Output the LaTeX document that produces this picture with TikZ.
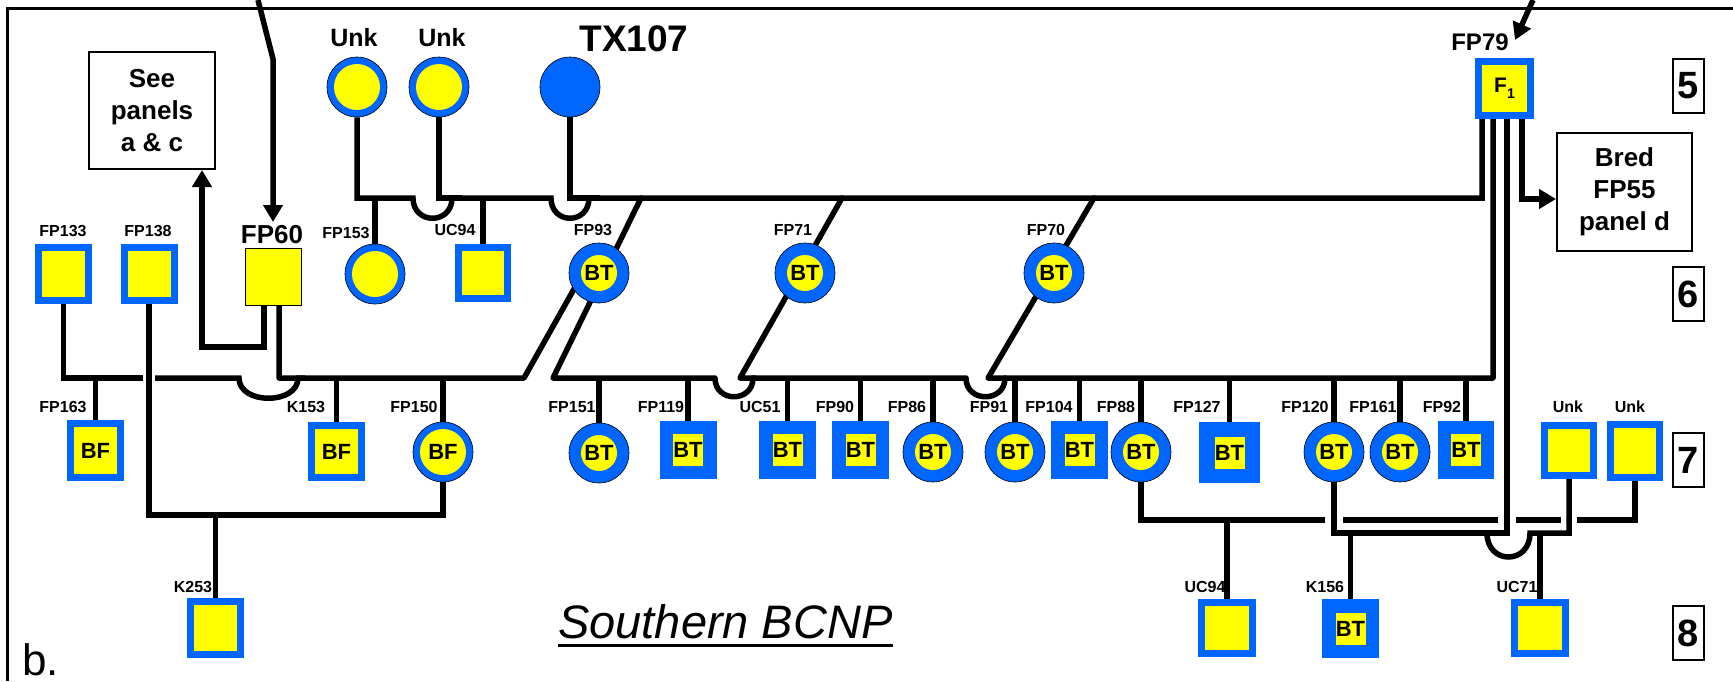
\documentclass[tikz,border=0pt]{standalone}
\usepackage{fontspec}
\setmainfont{Liberation Sans}
\usetikzlibrary{arrows.meta,calc}
\definecolor{pblue}{RGB}{0,102,255}
\definecolor{pyellow}{RGB}{255,255,0}
\newcommand{\myfs}[2]{\fontsize{#1}{#2}\selectfont}
\pgfdeclarelayer{bg}
\pgfsetlayers{bg,main}
\begin{document}
\begin{tikzpicture}[x=1pt,y=-1pt,
  ln/.style={line width=5.5pt},
  arr/.style={line width=5.5pt,-{Triangle[length=17pt,width=19pt]}},
  circbase/.style={circle, fill=pblue, draw=black, line width=0.6pt, minimum size=60pt, inner sep=0pt},
  ringc/.style={circbase, path picture={\fill[pyellow] (path picture bounding box.center) circle[radius=23pt];}},
  btc/.style={circbase, font=\bfseries\myfs{22}{22}, path picture={\fill[pyellow] (path picture bounding box.center) circle[radius=18pt];}},
  bfc/.style={ringc, font=\bfseries\myfs{22}{22}},
  solidc/.style={circbase},
  sqbase/.style={rectangle, fill=pblue, minimum width=57pt, minimum height=59pt, inner sep=0pt},
  ringsq/.style={sqbase, path picture={\fill[pyellow] ([xshift=7pt,yshift=-7pt]path picture bounding box.north west) rectangle ([xshift=-7pt,yshift=7pt]path picture bounding box.south east);}},
  bfsq/.style={ringsq, font=\bfseries\myfs{22}{22}},
  btsq/.style={sqbase, font=\bfseries\myfs{22}{22}, path picture={\fill[pyellow] ([xshift=-15pt,yshift=-16pt]path picture bounding box.center) rectangle ([xshift=15pt,yshift=16pt]path picture bounding box.center);}},
  lbl/.style={font=\bfseries\myfs{16}{16}, inner sep=0pt},
  tbox/.style={draw, line width=2pt, align=center, font=\bfseries\myfs{26}{32}, inner sep=0pt},
  numbox/.style={draw, line width=2pt, minimum width=31pt, minimum height=54pt, inner sep=0pt, font=\bfseries\myfs{38}{38}}
]
\useasboundingbox (0,0) rectangle (1733,681);

% ---------- generation 5
\node[ringc] (unkA) at (357,87) {};
\node[ringc] (unkB) at (439,87) {};
\node[solidc] (tx107) at (570,87) {};
\node[ringsq, minimum width=59pt, minimum height=61pt, font=\bfseries\myfs{21}{21}] (fp79) at (1504.5,88.5) {F\raisebox{-0.3em}{\myfs{14}{14}1}};
\node[font=\bfseries\myfs{25}{25}, inner sep=0pt] (lunkA) at (354,38) {Unk};
\node[font=\bfseries\myfs{25}{25}, inner sep=0pt] (lunkB) at (442,38) {Unk};
\node[font=\bfseries\myfs{37}{37}, inner sep=0pt] (ltx) at (634,39) {TX107};
\node[font=\bfseries\myfs{24}{24}, inner sep=0pt] (lfp79) at (1480,42) {FP79};

% ---------- generation 6
\node[ringsq, minimum height=60pt] (fp133) at (63.5,274) {};
\node[ringsq, minimum height=60pt] (fp138) at (149,274) {};
\node[rectangle, fill=pyellow, draw=black, line width=0.8pt, minimum width=56pt, minimum height=57pt] (fp60) at (273,276.5) {};
\node[ringc] (fp153) at (375,274) {};
\node[ringsq, minimum width=56pt, minimum height=58pt] (uc94a) at (483,273) {};
\node[btc] (fp93) at (599,273) {BT};
\node[btc] (fp71) at (805,273) {BT};
\node[btc] (fp70) at (1054,273) {BT};
\node[lbl] (lfp133) at (63,231) {FP133};
\node[lbl] (lfp138) at (148,231) {FP138};
\node[font=\bfseries\myfs{26}{26}, inner sep=0pt] (lfp60) at (272,235) {FP60};
\node[lbl] (lfp153) at (346,233) {FP153};
\node[lbl] (luc94a) at (455,230) {UC94};
\node[lbl] (lfp93) at (593,230) {FP93};
\node[lbl] (lfp71) at (793,230) {FP71};
\node[lbl] (lfp70) at (1046,230) {FP70};

% ---------- generation 7
\node[bfsq, minimum height=61pt] (fp163) at (95.5,450.5) {BF};
\node[bfsq] (k153) at (336.5,451.5) {BF};
\node[bfc] (fp150) at (443,452) {BF};
\node[btc] (fp151) at (599,453) {BT};
\node[btsq, minimum height=58pt] (fp119) at (688,450) {BT};
\node[btsq, minimum height=58pt] (uc51) at (787.5,450) {BT};
\node[btsq, minimum height=58pt] (fp90) at (860.5,450) {BT};
\node[btc] (fp86) at (933,452) {BT};
\node[btc] (fp91) at (1015,452) {BT};
\node[btsq, minimum height=58pt] (fp104) at (1079.5,450) {BT};
\node[btc] (fp88) at (1141,452) {BT};
\node[btsq, minimum width=61pt, minimum height=61pt] (fp127) at (1229.5,452.5) {BT};
\node[btc] (fp120) at (1334,452) {BT};
\node[btc] (fp161) at (1400,452) {BT};
\node[btsq, minimum width=56pt, minimum height=58pt] (fp92) at (1466,450) {BT};
\node[ringsq, minimum width=56pt, minimum height=57pt] (unkC) at (1569,450.5) {};
\node[ringsq, minimum width=56pt, minimum height=60pt] (unkD) at (1635,451) {};
\node[lbl] (lfp163) at (63,407) {FP163};
\node[lbl] (lk153) at (306,407) {K153};
\node[lbl] (lfp150) at (414,407) {FP150};
\node[lbl] (lfp151) at (572,407) {FP151};
\node[lbl] (lfp119) at (661,407) {FP119};
\node[lbl] (luc51) at (760,407) {UC51};
\node[lbl] (lfp90) at (835,407) {FP90};
\node[lbl] (lfp86) at (907,407) {FP86};
\node[lbl] (lfp91) at (989,407) {FP91};
\node[lbl] (lfp104) at (1049,407) {FP104};
\node[lbl] (lfp88) at (1116,407) {FP88};
\node[lbl] (lfp127) at (1197,407) {FP127};
\node[lbl] (lfp120) at (1305,407) {FP120};
\node[lbl] (lfp161) at (1373,407) {FP161};
\node[lbl] (lfp92) at (1442,407) {FP92};
\node[lbl] (lunkC) at (1568,407) {Unk};
\node[lbl] (lunkD) at (1630,407) {Unk};

% ---------- generation 8
\node[ringsq, minimum height=60pt] (k253) at (215.5,628) {};
\node[ringsq, minimum width=58pt, minimum height=58pt] (uc94b) at (1227,628) {};
\node[btsq, minimum height=59pt] (k156) at (1350.5,628.5) {BT};
\node[ringsq, minimum width=58pt, minimum height=58pt] (uc71) at (1540,628) {};
\node[lbl] (lk253) at (193,587) {K253};
\node[lbl] (luc94b) at (1205,587) {UC94};
\node[lbl] (lk156) at (1325,587) {K156};
\node[lbl] (luc71) at (1517,587) {UC71};

% ---------- boxes and texts
\node[tbox, minimum width=126pt, minimum height=117pt] (see) at (152,110.5) {See\\panels\\a \& c};
\node[tbox, minimum width=135pt, minimum height=118pt] (bred) at (1624.5,192) {Bred\\FP55\\panel d};
\node[numbox] (n5) at (1688.5,86) {5};
\node[numbox] (n6) at (1688.5,294) {6};
\node[numbox] (n7) at (1688.5,460) {7};
\node[numbox] (n8) at (1688.5,633) {8};
\node[font=\myfs{44}{44}, inner sep=0pt, anchor=base west] (blab) at (22,675) {b.};
\node[font=\itshape\myfs{47}{47}, inner sep=0pt, anchor=base west] (south) at (558,638) {Southern BCNP};
\draw[line width=3pt] ([yshift=-7pt]south.base west) -- ([yshift=-7pt]south.base east);

\coordinate (tlarrow) at (273,222);
\coordinate (trarrow) at (1515,40);

\begin{pgfonlayer}{bg}
% frame
\draw[line width=3pt] (7,681) -- (7,8) -- (1733,8);
% incoming arrows
\draw[arr] (258,0) -- (273,59) -- (tlarrow);
\draw[arr] (1533,0) -- (trarrow);
% FP60 -> see panels
\draw[arr] (264,0 |- fp60.south) -- (264,347) -- (202,347) -- (202,0 |- see.south);
% FP60 x FP93
\draw[ln, line join=round] (279,0 |- fp60.south) -- (279,378) -- (524,378) -- ($(fp93.center)+(-16,0)$);
% FP133 x FP60
\draw[ln] (fp133.south) -- (fp133.south |- 0,378) -- (143,378);
\draw[ln] (155,378) -- (239,378) .. controls (239,405) and (298,405) .. (298,378) -- (305,378);
% FP138 x FP150
\draw[ln] (fp138.south) -- (fp138.south |- 0,515) -- (fp150.south |- 0,515) -- (fp150.south);
\draw[ln] (k253.north |- 0,515) -- (k253.north);
% generation 5 matings with FP79
\draw[ln] (unkA.south) -- (unkA.south |- 0,198) -- (413,198) .. controls (413,225) and (452,225) .. (452,198) -- (551,198) .. controls (551,225) and (589,225) .. (589,198) -- (1482,198) -- (1482,0 |- fp79.south);
\draw[ln] (unkB.south) -- (unkB.south |- 0,198) -- (462,198);
\draw[ln] (tx107.south) -- (tx107.south |- 0,198) -- (600,198);
\draw[ln] (fp153.north |- 0,198) -- (fp153.north);
\draw[ln] (uc94a.north |- 0,198) -- (uc94a.north);
% daughters of TX107 and their matings with FP79
\draw[ln, line cap=round, line join=round] (641,198) -- (553,378) -- (715,378) .. controls (715,403) and (753,403) .. (753,378) -- (966,378) .. controls (966,403) and (1005,403) .. (1005,378) -- (1493,378) -- (1493,0 |- fp79.south);
\draw[ln, line cap=round, line join=round] (842,198) -- (740,378) -- (755,378);
\draw[ln, line cap=round, line join=round] (1094,198) -- (988,378) -- (1005,378);
\foreach \n in {fp163,k153,fp150,fp151,fp119,uc51,fp90,fp86,fp91,fp104,fp88,fp127,fp120,fp161,fp92}
  \draw[ln] (\n.north |- 0,378) -- (\n.north);
% FP79 to bred box
\draw[arr] (1522,0 |- fp79.south) -- (1522,199) -- (bred.west |- 0,199);
% FP79 x FP120
\draw[ln] (1507,0 |- fp79.south) -- (1507,533) -- (fp120.south |- 0,533) -- (fp120.south);
\draw[ln] (k156.north |- 0,533) -- (k156.north);
% Unk x FP120 -> UC71
\draw[ln] (unkC.south) -- (unkC.south |- 0,533) -- (1530,533) .. controls (1530,565) and (1487,565) .. (1487,533);
\draw[ln] (uc71.north |- 0,533) -- (uc71.north);
% FP88 x Unk -> UC94
\draw[ln] (fp88.south) -- (fp88.south |- 0,520) -- (1325,520);
\draw[ln] (1343,520) -- (1498,520);
\draw[ln] (1516,520) -- (1561,520);
\draw[ln] (1577,520) -- (unkD.south |- 0,520) -- (unkD.south);
\draw[ln] (uc94b.north |- 0,520) -- (uc94b.north);
\end{pgfonlayer}
\end{tikzpicture}
\end{document}
